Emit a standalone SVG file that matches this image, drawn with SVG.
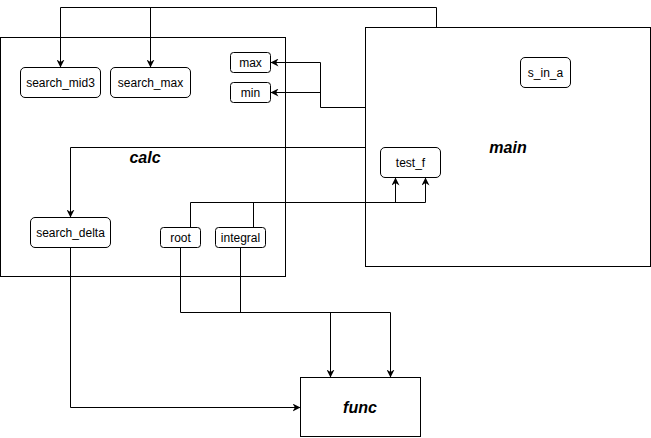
<svg xmlns="http://www.w3.org/2000/svg" width="651" height="438" viewBox="0 0 651 438">
<defs>
<marker id="arr" viewBox="0 0 10 10" refX="10" refY="5" markerWidth="8" markerHeight="8" markerUnits="userSpaceOnUse" orient="auto">
<path d="M0,0 L10,5 L0,10 L3,5 Z" fill="#000"/>
</marker>
</defs>
<style>
.box{fill:#fff;stroke:#000;stroke-width:1}
.fn{fill:#fff;stroke:#000;stroke-width:1}
.lbl{font-family:"Liberation Sans",Arial,sans-serif;font-size:12px;fill:#000;text-anchor:middle;dominant-baseline:central}
.big{font-family:"Liberation Sans",Arial,sans-serif;font-size:16px;font-weight:bold;font-style:italic;fill:#000;text-anchor:middle;dominant-baseline:central}
.c{fill:none;stroke:#000;stroke-width:1}
.a{marker-end:url(#arr)}
</style>
<rect width="651" height="438" fill="#fff"/>
<g id="calc">
<rect class="box" x="0.5" y="37.5" width="285" height="239"/>
<text class="big" x="145" y="157">calc</text>
</g>
<g id="main">
<rect class="box" x="365.5" y="27.5" width="285" height="239"/>
<text class="big" x="508" y="147">main</text>
</g>
<g id="func">
<rect class="box" x="300.5" y="377.5" width="120" height="59"/>
<text class="big" x="360" y="407">func</text>
</g>
<g id="search_mid3">
<rect class="fn" x="20.5" y="67.5" width="80" height="30" rx="4.5"/>
<text class="lbl" x="60.5" y="82.5">search_mid3</text>
</g>
<g id="search_max">
<rect class="fn" x="110.5" y="67.5" width="80" height="30" rx="4.5"/>
<text class="lbl" x="150.5" y="82.5">search_max</text>
</g>
<g id="max">
<rect class="fn" x="230.5" y="52.5" width="40" height="20" rx="3"/>
<text class="lbl" x="250.5" y="62.5">max</text>
</g>
<g id="min">
<rect class="fn" x="230.5" y="82.5" width="40" height="20" rx="3"/>
<text class="lbl" x="250.5" y="92.5">min</text>
</g>
<g id="search_delta">
<rect class="fn" x="30.5" y="217.5" width="80" height="30" rx="4.5"/>
<text class="lbl" x="70.5" y="232.5">search_delta</text>
</g>
<g id="root">
<rect class="fn" x="160.5" y="227.5" width="40" height="20" rx="3"/>
<text class="lbl" x="180.5" y="237.5">root</text>
</g>
<g id="integral">
<rect class="fn" x="215.5" y="227.5" width="50" height="20" rx="3"/>
<text class="lbl" x="240.5" y="237.5">integral</text>
</g>
<g id="s_in_a">
<rect class="fn" x="520.5" y="57.5" width="50" height="30" rx="4.5"/>
<text class="lbl" x="545.5" y="72.5">s_in_a</text>
</g>
<g id="test_f">
<rect class="fn" x="380.5" y="147.5" width="60" height="30" rx="4.5"/>
<text class="lbl" x="410.5" y="162.5">test_f</text>
</g>
<g id="connectors">
<path class="c" d="M436.5,27.5 V7.5 H60.5"/>
<path class="c a" d="M60.5,7.5 V67.5"/>
<path class="c a" d="M150.5,7.5 V67.5"/>
<path class="c a" d="M365.5,107.5 H320.5 V62.5 H270.5"/>
<path class="c a" d="M320.5,92.5 H270.5"/>
<path class="c a" d="M365.5,147.5 H70.5 V217.5"/>
<path class="c" d="M190.5,227.5 V202.5 H425.5"/>
<path class="c" d="M253.5,227.5 V202.5"/>
<path class="c a" d="M395.5,202.5 V177.5"/>
<path class="c a" d="M425.5,202.5 V177.5"/>
<path class="c" d="M180.5,247.5 V312.5 H390.5"/>
<path class="c" d="M240.5,247.5 V312.5"/>
<path class="c a" d="M330.5,312.5 V377.5"/>
<path class="c a" d="M390.5,312.5 V377.5"/>
<path class="c a" d="M70.5,247.5 V407.5 H300.5"/>
</g>
</svg>
